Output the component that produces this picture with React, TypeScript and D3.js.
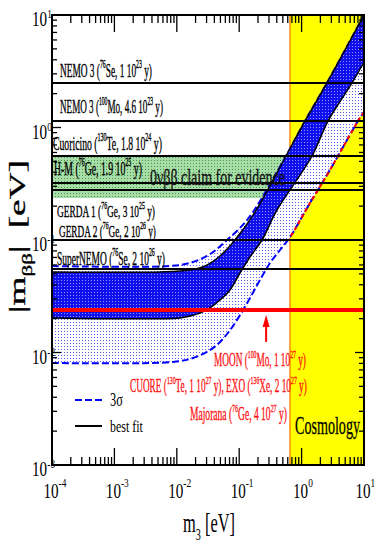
import { useEffect, useRef } from 'react';
import * as d3 from 'd3';

// inverted hierarchy: lightest mass m3 [eV] -> |m_bb| [eV]
const bestFitUpper: [number, number][] = [
  [1e-4, 0.052], [0.0054, 0.052], [0.0163, 0.054], [0.0283, 0.0587], [0.0492, 0.0721],
  [0.0857, 0.1], [0.179, 0.177], [0.562, 0.558], [1.13, 1.14], [2.55, 2.49], [10, 10],
];
const bestFitLower: [number, number][] = [
  [1e-4, 0.0203], [0.0113, 0.0203], [0.0163, 0.0211], [0.0236, 0.0224], [0.034, 0.0249],
  [0.0492, 0.0293], [0.0713, 0.036], [0.103, 0.0509], [0.149, 0.0706], [0.232, 0.1],
  [0.404, 0.185], [1.47, 0.558], [2.65, 1.14], [6.42, 2.49], [10, 3.82],
];
const sigma3Upper: [number, number][] = [
  [1e-4, 0.0587], [0.0078, 0.0587], [0.0163, 0.0625], [0.0305, 0.0721], [0.044, 0.0832],
  [0.0637, 0.1], [0.103, 0.128], [0.166, 0.177], [0.562, 0.558], [1.13, 1.14], [2.55, 2.49], [10, 10],
];
const sigma3Lower: [number, number][] = [
  [1e-4, 0.00807], [0.0087, 0.00824], [0.0182, 0.00893], [0.034, 0.0105], [0.0492, 0.0124],
  [0.0713, 0.0158], [0.103, 0.0215], [0.149, 0.0305], [0.215, 0.0441], [0.312, 0.0625],
  [0.451, 0.0815], [0.652, 0.106], [1.36, 0.213], [2.55, 0.378], [3.83, 0.558], [8.0, 1.14], [10, 1.37],
];

// experimental sensitivities (horizontal lines)
const expLabels = [
  'NEMO 3 (^{76}Se, 1 10^{23} y)',
  'NEMO 3 (^{100}Mo, 4.6 10^{23} y)',
  'Cuoricino (^{130}Te, 1.8 10^{24} y)',
  'H-M (^{76}Ge, 1.9 10^{25} y)',
  'GERDA 1 (^{76}Ge, 3 10^{25} y)',
  'GERDA 2 (^{76}Ge, 2 10^{26} y)',
  'SuperNEMO (^{76}Se, 2 10^{26} y)',
];
const expValues = [2.49, 1.14, 0.558, 0.321, 0.278, 0.1, 0.0552];

const futureLabels = [
  'MOON (^{100}Mo, 1 10^{27} y)',
  'CUORE (^{130}Te, 1 10^{27} y), EXO (^{136}Xe, 2 10^{27} y)',
  'Majorana (^{76}Ge, 4 10^{27} y)',
];
const futureValue = 0.0239;
const arrowM3 = 0.27;

const claimBand = [0.236, 0.558];
const cosmologyBound = 0.652;

const xTickLabels = ['-4', '-3', '-2', '-1', '0', '1'];
const yTickLabels = ['-3', '-2', '-1', '0', '1'];

const FONT = "'Liberation Serif', 'Times New Roman', serif";

function rich(parent: any, str: string, size: number) {
  const text = parent.append('text').attr('font-size', size).style('white-space', 'pre');
  const tokens = str.split(/(\^\{[^}]*\}|_\{[^}]*\})/).filter((s) => s.length);
  let shift = 0;
  tokens.forEach((tok) => {
    let target = 0;
    let content = tok;
    let fs: number | null = null;
    if (tok.startsWith('^{')) {
      target = -0.45 * size;
      content = tok.slice(2, -1);
      fs = size * 0.62;
    } else if (tok.startsWith('_{')) {
      target = 0.28 * size;
      content = tok.slice(2, -1);
      fs = size * 0.62;
    }
    const ts = text.append('tspan').attr('dy', target - shift).text(content);
    if (fs) ts.attr('font-size', fs);
    shift = target;
  });
  return text;
}

// squeeze a text to a measured width (the figure's fonts are condensed)
function fit(t: any, x: number, y: number, width: number, sy = 1) {
  const w = (t.node() as SVGTextElement).getBBox().width;
  t.attr('transform', `translate(${x},${y}) scale(${width / w},${sy})`);
}

export default function App() {
  const ref = useRef<SVGSVGElement>(null);

  useEffect(() => {
    if (!ref.current) return;
    const svg = d3.select(ref.current);
    svg.selectAll('*').remove();
    svg.attr('font-family', FONT);

    const L = 52, R = 364, T = 15, B = 465;
    const x = d3.scaleLog().domain([1e-4, 10]).range([L, R]);
    const y = d3.scaleLog().domain([1e-3, 10]).range([B, T]);

    const defs = svg.append('defs');
    const pattern = (id: string, bg: string, dot: string) => {
      const p = defs.append('pattern').attr('id', id)
        .attr('width', 3).attr('height', 3).attr('patternUnits', 'userSpaceOnUse');
      p.append('rect').attr('width', 3).attr('height', 3).attr('fill', bg);
      p.append('rect').attr('x', 1).attr('y', 1).attr('width', 1).attr('height', 1).attr('fill', dot);
    };
    pattern('p3s', '#ffffff', '#5a5aff');
    pattern('pbf', '#1010ee', '#9090ff');
    pattern('pgr', '#a8dca8', '#3f9a3f');
    defs.append('clipPath').attr('id', 'plot')
      .append('rect').attr('x', L).attr('y', T).attr('width', R - L).attr('height', B - T);
    defs.append('clipPath').attr('id', 'cosmo')
      .append('rect').attr('x', x(cosmologyBound)).attr('y', T).attr('width', R - x(cosmologyBound)).attr('height', B - T);

    const g = svg.append('g').attr('clip-path', 'url(#plot)');

    // claim band
    g.append('rect').attr('x', L).attr('width', R - L)
      .attr('y', y(claimBand[1])).attr('height', y(claimBand[0]) - y(claimBand[1]))
      .attr('fill', 'url(#pgr)');

    // cosmology
    g.append('rect').attr('x', x(cosmologyBound)).attr('y', T)
      .attr('width', R - x(cosmologyBound)).attr('height', B - T).attr('fill', '#ffff00');
    g.append('line').attr('x1', x(cosmologyBound)).attr('x2', x(cosmologyBound))
      .attr('y1', T).attr('y2', B).attr('stroke', '#ff8c00').attr('stroke-width', 1.5);

    const line = d3.line<[number, number]>()
      .x((d) => x(d[0])).y((d) => y(d[1]))
      .curve(d3.curveCatmullRom.alpha(0.5));
    const band = (up: [number, number][], lo: [number, number][]) =>
      (line(up) as string) + (line([...lo].reverse()) as string).replace(/^M/, 'L') + 'Z';

    g.append('path').attr('d', band(sigma3Upper, sigma3Lower)).attr('fill', 'url(#p3s)');

    [sigma3Upper, sigma3Lower].forEach((c) => {
      g.append('path').attr('d', line(c)).attr('fill', 'none')
        .attr('stroke', '#0000ff').attr('stroke-width', 2).attr('stroke-dasharray', '7,3');
    });
    g.append('path').attr('d', line(sigma3Lower)).attr('fill', 'none').attr('clip-path', 'url(#cosmo)')
      .attr('stroke', '#ff0000').attr('stroke-width', 2).attr('stroke-dasharray', '4,3');

    g.append('path').attr('d', band(bestFitUpper, bestFitLower)).attr('fill', 'url(#pbf)');
    [bestFitUpper, bestFitLower].forEach((c) => {
      g.append('path').attr('d', line(c)).attr('fill', 'none')
        .attr('stroke', '#000').attr('stroke-width', 1.5);
    });

    // sensitivity lines
    expValues.forEach((v) => {
      g.append('line').attr('x1', L).attr('x2', R).attr('y1', y(v)).attr('y2', y(v))
        .attr('stroke', '#000').attr('stroke-width', 2);
    });
    g.append('line').attr('x1', L).attr('x2', R).attr('y1', y(futureValue)).attr('y2', y(futureValue))
      .attr('stroke', '#ff0000').attr('stroke-width', 4);

    // labels of the lines: [x, offset from the line, width, font size]
    const labelPos = [
      [60, -6, 92, 19], [60, -8, 103, 19], [53, -6, 109, 19], [54, -8, 88, 19],
      [57, 27, 98, 17], [59, -3, 97, 17], [57, -4, 108, 19],
    ];
    expLabels.forEach((s, i) => {
      const [lx, dy, w, fs] = labelPos[i];
      const t = rich(svg, s, fs).attr('fill', '#000').attr('stroke', '#000').attr('stroke-width', 0.35);
      fit(t, lx, y(expValues[i]) + dy, w);
    });
    const claim = rich(svg, '0νββ claim for evidence', 23).attr('fill', '#111')
      .attr('stroke', '#111').attr('stroke-width', 0.3);
    fit(claim, 150, 185, 135);

    const futurePos = [[214, 366, 92], [130, 392, 177], [190, 420, 97]];
    futureLabels.forEach((s, i) => {
      const [lx, ly, w] = futurePos[i];
      const t = rich(svg, s, 18).attr('fill', '#ff1010').attr('stroke', '#ff1010').attr('stroke-width', 0.3);
      fit(t, lx, ly, w);
    });

    // arrow to the future sensitivity
    const ax = x(arrowM3), ay = y(futureValue);
    svg.append('line').attr('x1', ax).attr('x2', ax).attr('y1', ay + 15).attr('y2', ay + 32)
      .attr('stroke', '#ff0000').attr('stroke-width', 2);
    svg.append('path')
      .attr('d', `M${ax - 3.5},${ay + 17}L${ax + 3.5},${ay + 17}L${ax},${ay + 5}Z`)
      .attr('fill', '#ff0000');

    const cos = rich(svg, 'Cosmology', 26).attr('fill', '#000').attr('stroke', '#000').attr('stroke-width', 0.3);
    fit(cos, 295, 434, 65);

    // legend
    svg.append('line').attr('x1', 75).attr('x2', 102).attr('y1', 400).attr('y2', 400)
      .attr('stroke', '#0000ff').attr('stroke-width', 2).attr('stroke-dasharray', '7,3');
    fit(rich(svg, '3σ', 18), 110, 406, 13);
    svg.append('line').attr('x1', 75).attr('x2', 102).attr('y1', 426).attr('y2', 426)
      .attr('stroke', '#000').attr('stroke-width', 2);
    fit(rich(svg, 'best fit', 17), 110, 432, 33);

    // frame and ticks
    svg.append('rect').attr('x', L).attr('y', T).attr('width', R - L).attr('height', B - T)
      .attr('fill', 'none').attr('stroke', '#000').attr('stroke-width', 2);
    const isMajor = (v: number) => Math.abs(Math.log10(v) - Math.round(Math.log10(v))) < 1e-6;
    const ticks = svg.append('g').attr('stroke', '#000').attr('stroke-width', 1.3);
    x.ticks().forEach((v) => {
      const len = isMajor(v) ? 17 : 8;
      ticks.append('line').attr('x1', x(v)).attr('x2', x(v)).attr('y1', B).attr('y2', B - len);
      ticks.append('line').attr('x1', x(v)).attr('x2', x(v)).attr('y1', T).attr('y2', T + len);
    });
    y.ticks().forEach((v) => {
      const len = isMajor(v) ? 9 : 5;
      ticks.append('line').attr('y1', y(v)).attr('y2', y(v)).attr('x1', L).attr('x2', L + len);
      ticks.append('line').attr('y1', y(v)).attr('y2', y(v)).attr('x1', R).attr('x2', R - len);
    });

    // tick labels
    const sx = 0.72;
    yTickLabels.forEach((e) => {
      const v = Math.pow(10, +e);
      const tg = svg.append('g').attr('transform', `translate(47,${y(v) + 11}) scale(${sx},1)`);
      tg.append('text').attr('text-anchor', 'end').attr('font-size', 21).text('10');
      tg.append('text').attr('x', 0.5).attr('y', -8).attr('font-size', 13).text(e);
    });
    xTickLabels.forEach((e) => {
      const v = Math.pow(10, +e);
      const tg = svg.append('g').attr('transform', `translate(${x(v) - 1},498) scale(${sx},1)`);
      tg.append('text').attr('text-anchor', 'middle').attr('font-size', 21).text('10');
      tg.append('text').attr('x', 10.5).attr('y', -11).attr('font-size', 13).text(e);
    });

    // axis titles
    fit(rich(svg, 'm_{3} [eV]', 28), 183, 532, 52);
    const yt = rich(svg, '|m_{ββ}|', 30).attr('stroke', '#000').attr('stroke-width', 0.4);
    yt.append('tspan').attr('dy', 0).attr('dx', 14).text('[eV]');
    const w = (yt.node() as SVGTextElement).getBBox().width;
    yt.attr('transform', `translate(25,313) rotate(-90) scale(${153 / w},0.8)`);
  }, []);

  return <svg ref={ref} width={374} height={545} style={{ position: 'absolute', left: 0, top: 0 }} />;
}
